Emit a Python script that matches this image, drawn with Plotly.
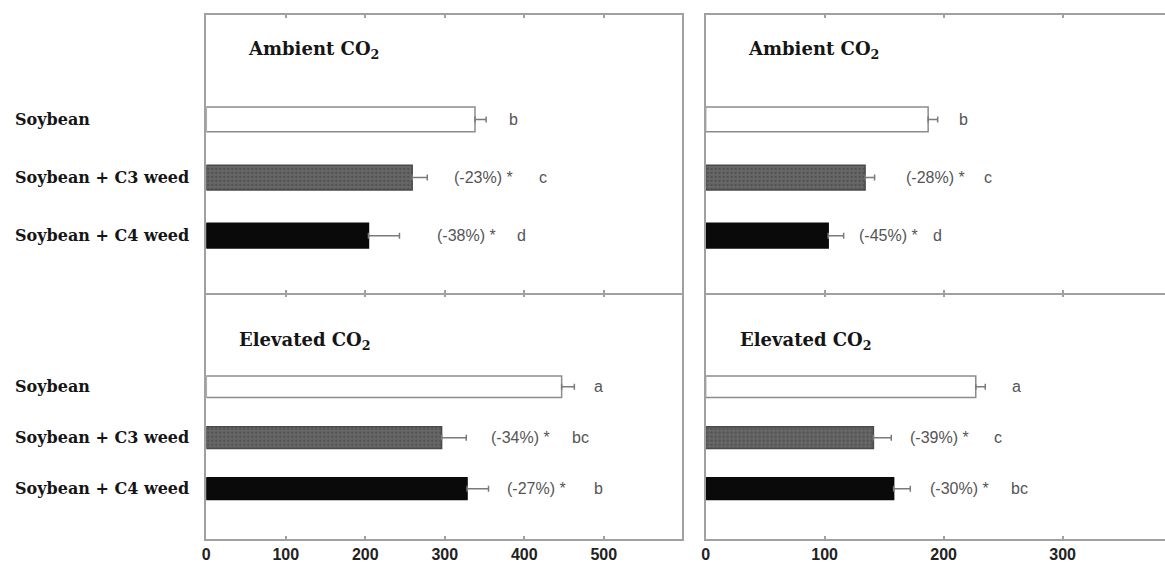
import plotly.graph_objects as go

# ---------------- data ----------------
categories = ["Soybean", "Soybean + C3 weed", "Soybean + C4 weed"]

left_ambient = [338, 259, 204]
left_ambient_err = [14, 19, 39]
left_elevated = [447, 296, 328]
left_elevated_err = [16, 31, 27]

right_ambient = [187, 134, 103]
right_ambient_err = [8, 8, 13]
right_elevated = [227, 141, 158]
right_elevated_err = [8, 15, 14]

pct_left_ambient = ["", "(-23%) *", "(-38%) *"]
pct_left_elevated = ["", "(-34%) *", "(-27%) *"]
pct_right_ambient = ["", "(-28%) *", "(-45%) *"]
pct_right_elevated = ["", "(-39%) *", "(-30%) *"]

letters_left_ambient = ["b", "c", "d"]
letters_left_elevated = ["a", "bc", "b"]
letters_right_ambient = ["b", "c", "d"]
letters_right_elevated = ["a", "c", "bc"]

# label anchor positions (data units)
pct_x_left_ambient = [None, 309, 288]
let_x_left_ambient = [386, 424, 397]
pct_x_left_elevated = [None, 355, 376]
let_x_left_elevated = [494, 471, 494]
pct_x_right_ambient = [None, 167, 127]
let_x_right_ambient = [217, 237, 195]
pct_x_right_elevated = [None, 170, 187]
let_x_right_elevated = [261, 246, 264]

left_ticks = [0, 100, 200, 300, 400, 500]
right_ticks = [0, 100, 200, 300]

# ---------------- style ----------------
W, H = 1165, 563
LINE = "#a0a0a0"
fills = ["#ffffff", "#5a5a5a", "#0a0a0a"]
outlines = ["#8c8c8c", "#4a4a4a", "#0a0a0a"]


def px(v):
    return v / W


def py(v):
    return 1 - v / H


x_left = [px(203), px(680)]
x_right = [px(704), 1.0]
y_top = [py(295.25), py(15)]
y_bot = [py(543), py(296.75)]

fig = go.Figure()

panels = [
    ("x", "y", left_ambient, left_ambient_err),
    ("x2", "y2", right_ambient, right_ambient_err),
    ("x3", "y3", left_elevated, left_elevated_err),
    ("x4", "y4", right_elevated, right_elevated_err),
]

for xa, ya, vals, errs in panels:
    for i, cat in enumerate(categories):
        marker = dict(color=fills[i], line=dict(color=outlines[i], width=1.5))
        if i == 1:
            marker["pattern"] = dict(shape=".", fgcolor="#3c3c3c", bgcolor="#686868",
                                     size=4, solidity=0.35)
        fig.add_trace(go.Bar(
            x=[vals[i]], y=[cat], orientation="h", width=0.425,
            marker=marker,
            error_x=dict(type="data", array=[errs[i]], arrayminus=[0], symmetric=False,
                         color="#7a7a7a", thickness=1.5, width=3),
            xaxis=xa, yaxis=ya, showlegend=False, hoverinfo="skip",
        ))

axis_common = dict(showline=True, linecolor=LINE, linewidth=1.5, showgrid=False,
                   zeroline=False, ticks="inside", ticklen=3, tickcolor=LINE,
                   tickwidth=1.5, mirror="ticks", fixedrange=True)

tickfont = dict(family="Liberation Sans, Arial", size=16, color="#222222", weight="bold")


def yax(dom, rng, anchor, mirror):
    return dict(domain=dom, range=rng, anchor=anchor, type="category",
                categoryorder="array", categoryarray=categories, showticklabels=False,
                showline=True, linecolor=LINE, linewidth=1.5, mirror=mirror, ticks="",
                showgrid=False, zeroline=False, fixedrange=True)


fig.update_layout(
    width=W, height=H, autosize=False,
    margin=dict(l=0, r=0, t=0, b=0),
    paper_bgcolor="white", plot_bgcolor="white",
    barmode="overlay",
    xaxis=dict(domain=x_left, range=[0, 598], anchor="y", tickvals=left_ticks,
               showticklabels=False, **axis_common),
    xaxis2=dict(domain=x_right, range=[0, 386], anchor="y2", tickvals=right_ticks,
                showticklabels=False, **axis_common),
    xaxis3=dict(domain=x_left, range=[0, 598], anchor="y3", tickvals=left_ticks,
                showticklabels=True, tickfont=tickfont, **axis_common),
    xaxis4=dict(domain=x_right, range=[0, 386], anchor="y4", tickvals=right_ticks,
                showticklabels=True, tickfont=tickfont, **axis_common),
    yaxis=yax(y_top, [2.987, -1.796], "x", True),
    yaxis2=yax(y_top, [2.987, -1.796], "x2", False),
    yaxis3=yax(y_bot, [2.99, -1.806], "x3", True),
    yaxis4=yax(y_bot, [2.99, -1.806], "x4", False),
)

ann = []
cat_font = dict(family="DejaVu Serif", size=16, color="#151515", weight="bold")
title_font = dict(family="DejaVu Serif", size=18, color="#151515", weight="bold")
small_font = dict(family="Liberation Sans, Arial", size=16, color="#555555")

for ya in ["y", "y3"]:
    for cat in categories:
        ann.append(dict(text=cat, xref="paper", yref=ya, x=px(9), y=cat,
                        xanchor="left", yanchor="middle", showarrow=False, font=cat_font))

titles = [("x", "y", "Ambient CO<sub>2</sub>", 50, -1.20),
          ("x2", "y2", "Ambient CO<sub>2</sub>", 34, -1.20),
          ("x3", "y3", "Elevated CO<sub>2</sub>", 38, -0.89),
          ("x4", "y4", "Elevated CO<sub>2</sub>", 27, -0.89)]
for xa, ya, t, xv, yv in titles:
    ann.append(dict(text=t, xref=xa, yref=ya, x=xv, y=yv, xanchor="left",
                    yanchor="middle", showarrow=False, font=title_font))

label_sets = [
    ("x", "y", pct_left_ambient, pct_x_left_ambient, letters_left_ambient, let_x_left_ambient),
    ("x2", "y2", pct_right_ambient, pct_x_right_ambient, letters_right_ambient, let_x_right_ambient),
    ("x3", "y3", pct_left_elevated, pct_x_left_elevated, letters_left_elevated, let_x_left_elevated),
    ("x4", "y4", pct_right_elevated, pct_x_right_elevated, letters_right_elevated, let_x_right_elevated),
]
for xa, ya, pcts, pxs, lets, lxs in label_sets:
    for i, cat in enumerate(categories):
        if pcts[i]:
            ann.append(dict(text=pcts[i], xref=xa, yref=ya, x=pxs[i], y=cat,
                            xanchor="left", yanchor="middle", showarrow=False, font=small_font))
        ann.append(dict(text=lets[i], xref=xa, yref=ya, x=lxs[i], y=cat,
                        xanchor="center", yanchor="middle", showarrow=False, font=small_font))

fig.update_layout(annotations=ann)

fig.write_html("out.html", config={"displayModeBar": False},
               post_script="document.body.style.margin='0px';document.body.style.overflow='hidden';")
